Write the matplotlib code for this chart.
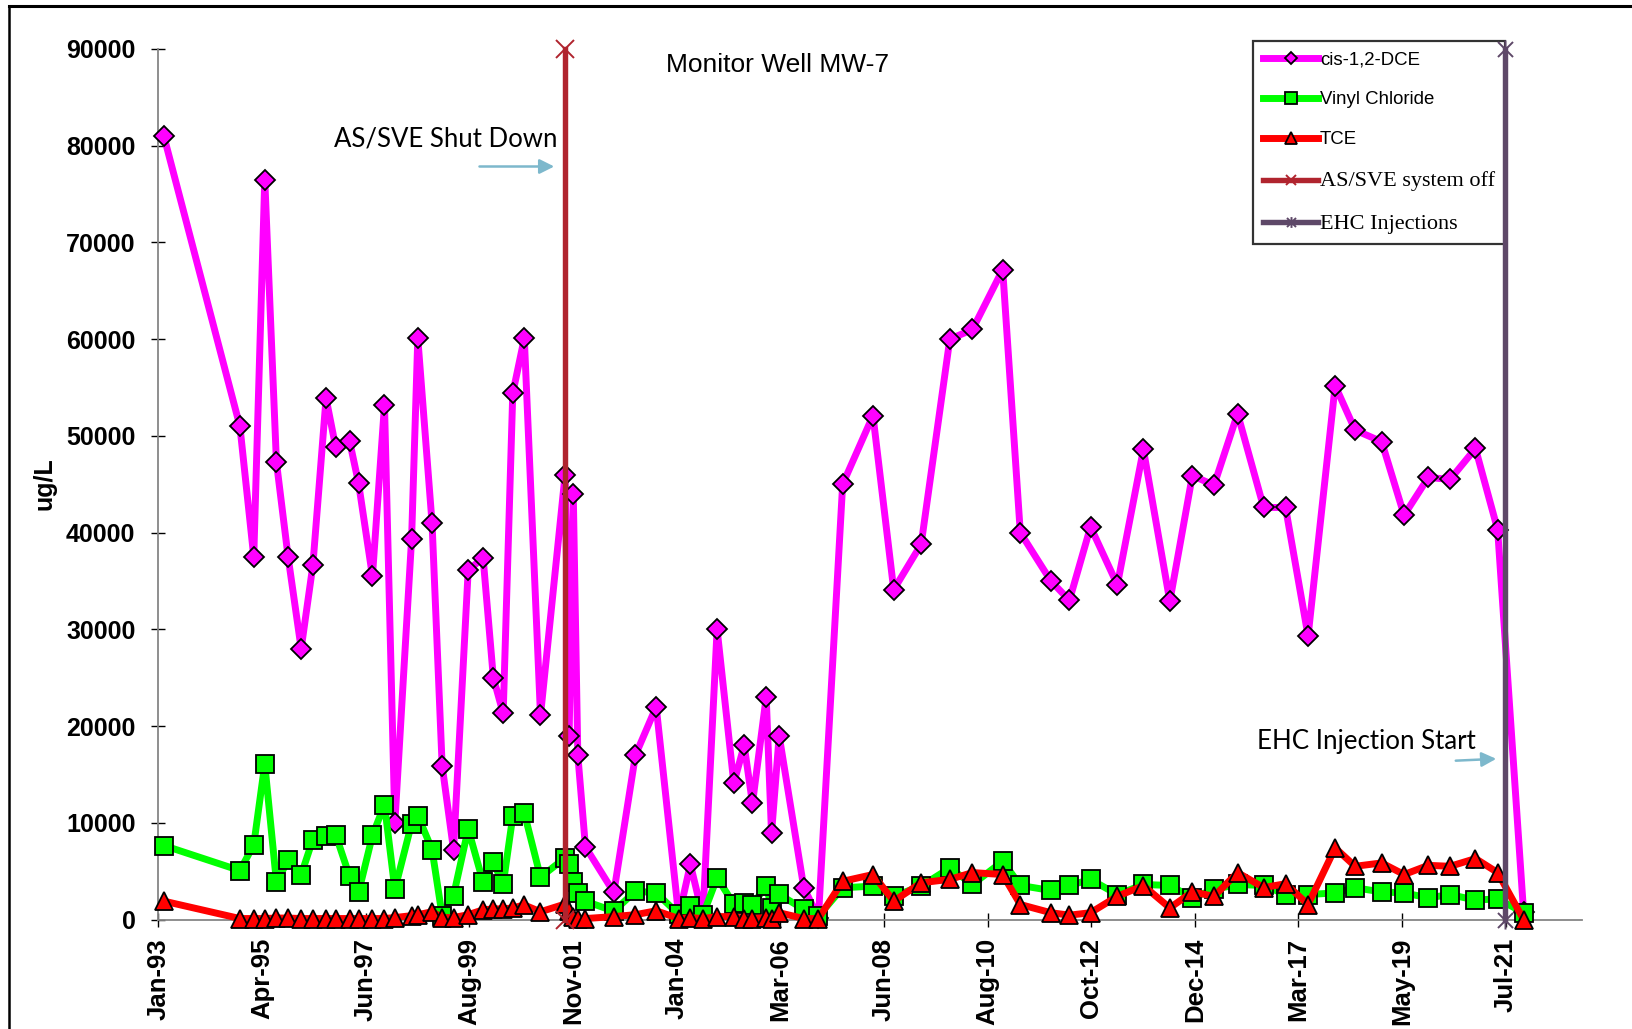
import numpy as np
import pandas as pd
import matplotlib
matplotlib.use("Agg")
import matplotlib.pyplot as plt
from matplotlib.lines import Line2D
from matplotlib.path import Path

# ---- sampling dates and concentrations (ug/L) ----
sample_dates = [
    "1993-03-15", "1994-10-23", "1995-02-07", "1995-05-03", "1995-08-01", "1995-10-30",
    "1996-02-08", "1996-05-08", "1996-08-18", "1996-11-01", "1997-02-15", "1997-04-26",
    "1997-08-11", "1997-11-12", "1998-01-31", "1998-06-09", "1998-07-27", "1998-11-14",
    "1999-01-31", "1999-04-29", "1999-08-20", "1999-12-13", "2000-03-01", "2000-05-16",
    "2000-07-29", "2000-10-26", "2001-02-28", "2001-09-06", "2001-10-07", "2001-11-08",
    "2001-12-13", "2002-02-10", "2002-09-17", "2003-03-03", "2003-08-10", "2004-01-31",
    "2004-04-30", "2004-08-04", "2004-11-22", "2005-03-31", "2005-06-19", "2005-08-22",
    "2005-12-06", "2006-01-16", "2006-03-16", "2006-09-22", "2007-01-13", "2007-07-19",
    "2008-03-09", "2008-08-16", "2009-03-16", "2009-10-23", "2010-04-16", "2010-12-05",
    "2011-04-20", "2011-12-12", "2012-05-03", "2012-10-13", "2013-05-08", "2013-11-25",
    "2014-06-17", "2014-12-08", "2015-05-24", "2015-11-22", "2016-06-10", "2016-11-26",
    "2017-05-19", "2017-12-14", "2018-05-17", "2018-12-08", "2019-05-30", "2019-12-03",
    "2020-05-19", "2020-12-01", "2021-05-21", "2021-12-07",
]

cis_dce = [
    81000, 51000, 37500, 76500, 47300, 37500, 28000, 36600, 53900, 48800, 49500, 45100,
    35500, 53200, 10000, 39300, 60100, 41000, 15900, 7200, 36100, 37400, 25000, 21300,
    54400, 60100, 21100, 46000, 19000, 44000, 17000, 7500, 2800, 17000, 22000, 300,
    5700, 300, 30000, 14100, 18000, 12000, 23000, 8900, 19000, 3300, 200, 45000,
    52100, 34100, 38800, 60000, 61000, 67200, 40000, 35000, 33000, 40600, 34600, 48600,
    32900, 45900, 44900, 52300, 42600, 42600, 29300, 55200, 50600, 49400, 41800, 45700,
    45500, 48700, 40300, 800,
]

vinyl_chloride = [
    7650, 5060, 7720, 16080, 3870, 6100, 4620, 8270, 8680, 8750, 4480, 2800,
    8690, 11880, 3110, 9920, 10750, 7230, 400, 2480, 9370, 3860, 5930, 3620,
    10670, 11020, 4380, 6370, 5690, 3870, 2760, 1890, 860, 2930, 2760, 530,
    1390, 430, 4310, 1600, 1700, 1500, 3500, 1200, 2600, 1040, 350, 3280,
    3450, 2420, 3450, 5330, 3620, 6020, 3520, 3000, 3520, 4140, 2580, 3620,
    3520, 2250, 3110, 3620, 3520, 2580, 2580, 2750, 3280, 2850, 2750, 2240,
    2580, 2000, 2140, 700,
]

tce = [
    1900, 100, 100, 100, 150, 150, 100, 100, 100, 100, 100, 100,
    100, 100, 200, 400, 500, 800, 200, 200, 500, 1000, 1100, 1100,
    1200, 1500, 800, 1600, 900, 300, 100, 100, 300, 500, 900, 100,
    200, 100, 300, 300, 100, 100, 200, 100, 700, 100, 100, 3950,
    4650, 1900, 3800, 4150, 4850, 4650, 1550, 700, 450, 700, 2400, 3500,
    1200, 2850, 2400, 4850, 3300, 3700, 1550, 7400, 5500, 5850, 4650, 5600,
    5500, 6300, 4850, 0,
]

# ---- date axis and events ----
axis_start = "1993-01-31"
tick_step_days = 800
tick_labels = ["Jan-93", "Apr-95", "Jun-97", "Aug-99", "Nov-01", "Jan-04", "Mar-06",
               "Jun-08", "Aug-10", "Oct-12", "Dec-14", "Mar-17", "May-19", "Jul-21"]
axis_span_days = 10988
y_ticks = [0, 10000, 20000, 30000, 40000, 50000, 60000, 70000, 80000, 90000]

as_sve_off_date = "2001-09-08"
ehc_injection_date = "2021-07-17"

series_names = ["cis-1,2-DCE", "Vinyl Chloride", "TCE"]
event_names = ["AS/SVE system off", "EHC Injections"]

SANS = ["Liberation Sans", "DejaVu Sans"]
SERIF = ["Liberation Serif", "DejaVu Serif"]
CALLOUT = ["Lato", "DejaVu Sans"]

plt.rcParams["font.family"] = SANS

W, H = 1632, 1029
fig = plt.figure(figsize=(W / 100, H / 100), dpi=100)
fig.patch.set_facecolor("white")

ax = fig.add_axes([158 / W, 1 - 919.5 / H, 1424 / W, (919.5 - 49) / H])

dates = pd.to_datetime(sample_dates)

magenta = "#FF00FF"
green = "#00FF00"
red = "#FF0000"
sve_color = "#B0242E"
ehc_color = "#5E4868"

lw = 5.0
l_dce, = ax.plot(dates, cis_dce, color=magenta, lw=lw, marker="D", ms=10.5,
                 mfc=magenta, mec="black", mew=1.3, clip_on=False, zorder=3,
                 label=series_names[0])
l_vc, = ax.plot(dates, vinyl_chloride, color=green, lw=lw, marker="s", ms=13.5,
                mfc=green, mec="black", mew=1.3, clip_on=False, zorder=4,
                label=series_names[1])
l_tce, = ax.plot(dates, tce, color=red, lw=lw, marker="^", ms=13.5,
                 mfc=red, mec="black", mew=1.3, clip_on=False, zorder=5,
                 label=series_names[2])

# asterisk-like marker: an X with a vertical stroke
star_path = Path([(-1, -1), (1, 1), (-1, 1), (1, -1), (0, -1.2), (0, 1.2)],
                 [Path.MOVETO, Path.LINETO, Path.MOVETO, Path.LINETO,
                  Path.MOVETO, Path.LINETO])

sve_x = pd.to_datetime([as_sve_off_date, as_sve_off_date])
ehc_x = pd.to_datetime([ehc_injection_date, ehc_injection_date])
l_sve, = ax.plot(sve_x, [0, 90000], color=sve_color, lw=3.9, marker="x", ms=13,
                 mew=1.4, clip_on=False, zorder=6, label=event_names[0])
l_ehc, = ax.plot(ehc_x, [0, 90000], color=ehc_color, lw=3.9, marker=star_path,
                 ms=13, mew=1.4, clip_on=False, zorder=12, label=event_names[1])

start = pd.Timestamp(axis_start)
tick_pos = [start + pd.Timedelta(days=tick_step_days * i) for i in range(len(tick_labels))]
ax.set_xlim(start - pd.Timedelta(days=2), start + pd.Timedelta(days=axis_span_days))
ax.set_xticks(tick_pos)
ax.set_xticklabels(tick_labels, rotation=90, fontsize=18.5, fontweight="bold")
ax.set_ylim(0, 90000)
ax.set_yticks(y_ticks)
ax.set_yticklabels([str(v) for v in y_ticks], fontsize=18, fontweight="bold")

for side in ("top", "right"):
    ax.spines[side].set_visible(False)
for side in ("left", "bottom"):
    ax.spines[side].set_color("#868686")
    ax.spines[side].set_linewidth(1.3)
ax.tick_params(axis="both", direction="inout", length=10.5, width=1.0, color="black")
ax.tick_params(axis="y", pad=11)
ax.tick_params(axis="x", pad=8)

fig.text(45 / W, 1 - 484 / H, "ug/L", rotation=90, ha="center", va="center",
         fontsize=18, fontweight="bold")

fig.text(777.5 / W, 1 - 64.5 / H, "Monitor Well MW-7", ha="center", va="center",
         fontsize=19)

fig.text(557 / W, 1 - 138.5 / H, "AS/SVE Shut Down", ha="right", va="center",
         fontsize=18.5, family=CALLOUT)
fig.text(1476 / W, 1 - 742 / H, "EHC Injection Start", ha="right", va="center",
         fontsize=18.6, family=CALLOUT)

arrow_color = "#7DB8CC"
fig.add_artist(matplotlib.patches.FancyArrowPatch(
    (476.7 / W, 1 - 166.5 / H), (557 / W, 1 - 166.5 / H), transform=fig.transFigure,
    arrowstyle="-|>", mutation_scale=22, color=arrow_color, lw=1.8))
fig.add_artist(matplotlib.patches.FancyArrowPatch(
    (1453 / W, 1 - 760.8 / H), (1499 / W, 1 - 758.7 / H), transform=fig.transFigure,
    arrowstyle="-|>", mutation_scale=22, color=arrow_color, lw=1.8))

leg = ax.legend(handles=[l_dce, l_vc, l_tce, l_sve, l_ehc],
                loc="upper left", bbox_to_anchor=(1253 / W, 1 - 41 / H),
                bbox_transform=fig.transFigure, borderaxespad=0,
                fontsize=13.4, frameon=True, fancybox=False, shadow=False,
                handlelength=2.95, handletextpad=0.1, labelspacing=1.24,
                borderpad=0.55, markerscale=0.6)
leg.get_frame().set_edgecolor("black")
leg.get_frame().set_linewidth(1.6)
leg.set_zorder(10)
for t in leg.get_texts()[3:]:
    t.set_fontfamily(SERIF)
    t.set_fontsize(16)

# outer chart frame (left and top edges)
fig.add_artist(Line2D([8.5 / W, 8.5 / W], [0, 1 - 6 / H], transform=fig.transFigure,
                      color="black", lw=1.8))
fig.add_artist(Line2D([8.5 / W, 1], [1 - 6 / H, 1 - 6 / H], transform=fig.transFigure,
                      color="black", lw=2.2))

fig.savefig("out.png", dpi=100, facecolor="white")
